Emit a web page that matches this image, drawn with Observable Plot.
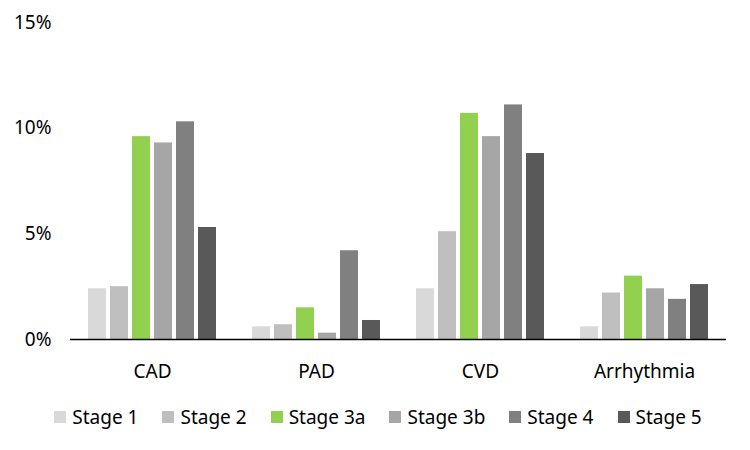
<!DOCTYPE html>
<html>
<head>
<meta charset="utf-8">
<script src="https://cdn.jsdelivr.net/npm/d3@7"></script>
<script src="https://cdn.jsdelivr.net/npm/@observablehq/plot@0.6"></script>
<style>
  body { margin: 0; background: #fff; font-family: "Noto Sans", sans-serif; }
  #legend { display: flex; justify-content: center; gap: 24px; margin-top: 15px; font-size: 19px; line-height: 24px; color: #000; padding-left: 6px; }
  .item { display: flex; align-items: center; }
  .sw { width: 12px; height: 12px; margin-right: 6px; display: inline-block; }
</style>
</head>
<body>
<div id="chart"></div>
<div id="legend"></div>
<script>
const categories = ["CAD", "PAD", "CVD", "Arrhythmia"];
const stages = ["Stage 1", "Stage 2", "Stage 3a", "Stage 3b", "Stage 4", "Stage 5"];
const colors = ["#d9d9d9", "#bfbfbf", "#92d050", "#a6a6a6", "#808080", "#595959"];
const valuesCAD = [2.4, 2.5, 9.6, 9.3, 10.3, 5.3];
const valuesPAD = [0.6, 0.7, 1.5, 0.3, 4.2, 0.9];
const valuesCVD = [2.4, 5.1, 10.7, 9.6, 11.1, 8.8];
const valuesArrhythmia = [0.6, 2.2, 3.0, 2.4, 1.9, 2.6];
const yTicks = [0, 5, 10, 15];

const series = [valuesCAD, valuesPAD, valuesCVD, valuesArrhythmia];
const data = [];
categories.forEach((c, i) => stages.forEach((s, j) => data.push({cat: c, stage: s, value: series[i][j]})));

const chart = Plot.plot({
  width: 750,
  height: 390,
  marginLeft: 69,
  marginRight: 23,
  marginTop: 22,
  marginBottom: 51,
  style: {fontFamily: '"Noto Sans", sans-serif', fontSize: "19px", color: "#000", background: "#fff"},
  fx: {domain: categories, padding: 0, label: null, axis: "bottom", tickSize: 0, tickPadding: 25},
  x: {domain: stages, axis: null, paddingInner: 0.18, paddingOuter: 0.74},
  y: {domain: [0, 15], ticks: yTicks, tickSize: 0, tickPadding: 19, tickFormat: d => d + "%", label: null},
  color: {domain: stages, range: colors},
  marks: [
    Plot.barY(data, {fx: "cat", x: "stage", y: "value", fill: "stage"}),
    Plot.ruleY([0], {stroke: "#000", strokeWidth: 1.5})
  ]
});
document.getElementById("chart").appendChild(chart);

const legend = document.getElementById("legend");
stages.forEach((s, i) => {
  const it = document.createElement("div");
  it.className = "item";
  const sw = document.createElement("span");
  sw.className = "sw";
  sw.style.background = colors[i];
  it.appendChild(sw);
  it.appendChild(document.createTextNode(s));
  legend.appendChild(it);
});
</script>
</body>
</html>
